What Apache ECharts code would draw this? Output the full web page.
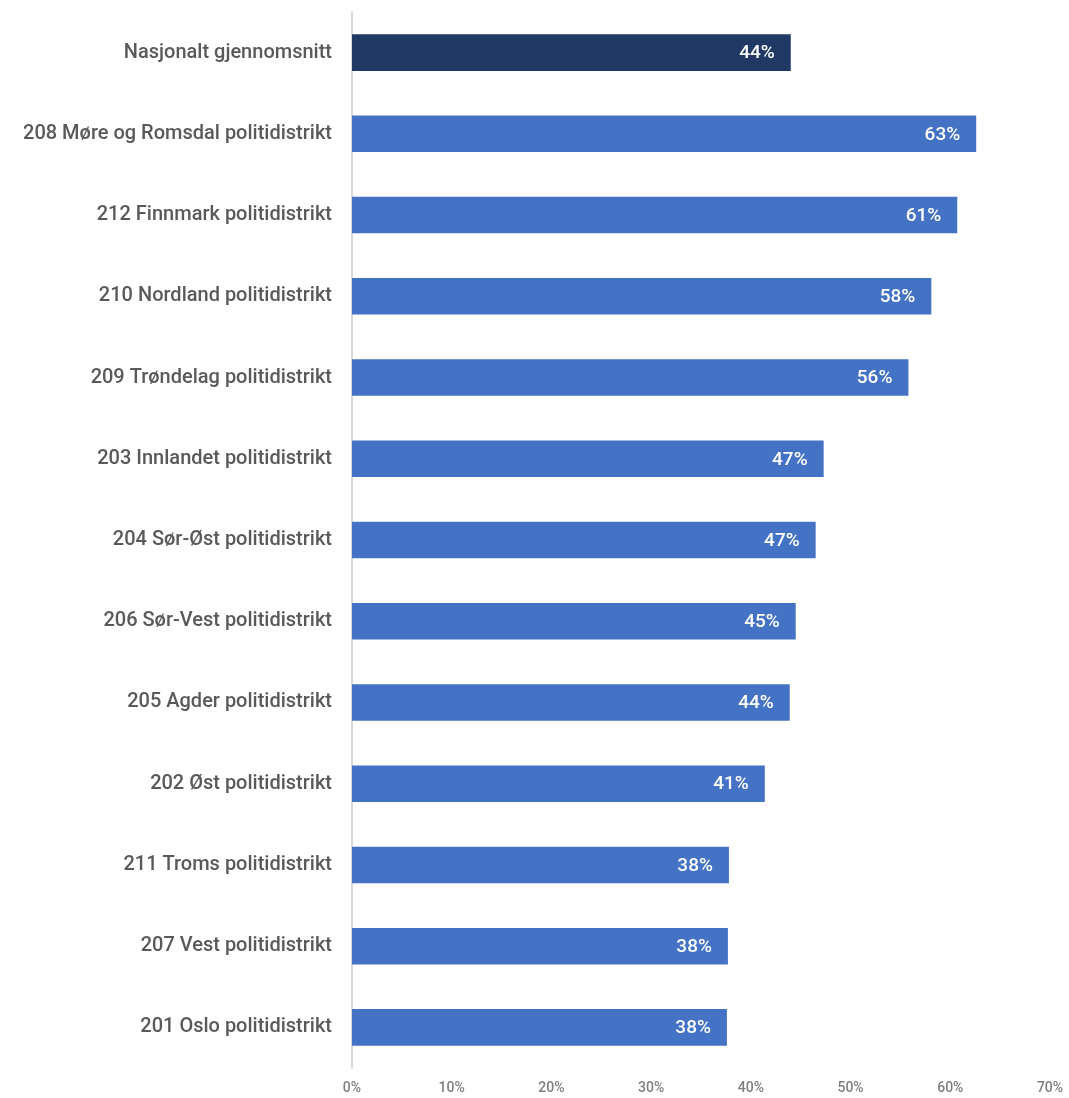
<!DOCTYPE html>
<html><head><meta charset="utf-8">
<script src="https://cdn.jsdelivr.net/npm/echarts@6/dist/echarts.min.js"></script>
<style>html,body{margin:0;padding:0;background:#fff}#c{width:1069px;height:1098px}</style>
</head><body><div id="c"></div>
<script>
const categories = [
  "Nasjonalt gjennomsnitt",
  "208 Møre og Romsdal politidistrikt",
  "212 Finnmark politidistrikt",
  "210 Nordland politidistrikt",
  "209 Trøndelag politidistrikt",
  "203 Innlandet politidistrikt",
  "204 Sør-Øst politidistrikt",
  "206 Sør-Vest politidistrikt",
  "205 Agder politidistrikt",
  "202 Øst politidistrikt",
  "211 Troms politidistrikt",
  "207 Vest politidistrikt",
  "201 Oslo politidistrikt"
];
const values = [0.440, 0.626, 0.607, 0.581, 0.558, 0.473, 0.465, 0.445, 0.439, 0.414, 0.378, 0.377, 0.376];
const xTicks = [0, 0.1, 0.2, 0.3, 0.4, 0.5, 0.6, 0.7];

const chart = echarts.init(document.getElementById('c'));
const font = "Roboto, 'Noto Sans', sans-serif";
chart.setOption({
  animation: false,
  grid: {left: 352, right: 19, top: 12, bottom: 30, containLabel: false},
  xAxis: {
    type: 'value', min: xTicks[0], max: xTicks[xTicks.length-1], interval: 0.1,
    axisLine: {show: false}, axisTick: {show: false}, splitLine: {show: false},
    axisLabel: {color: '#7f7f7f', fontSize: 14, fontWeight: 500, fontFamily: font, margin: 13,
      formatter: v => Math.round(v*100) + '%'}
  },
  yAxis: {
    type: 'category', data: categories, inverse: true,
    axisLine: {show: true, lineStyle: {color: '#d9d9d9', width: 2}},
    axisTick: {show: false},
    axisLabel: {color: '#595959', fontSize: 20, fontWeight: 500, fontFamily: font, margin: 20}
  },
  series: [{
    type: 'bar', barWidth: '45%',
    data: values.map((v, i) => ({value: v, itemStyle: {color: i === 0 ? '#203864' : '#4472C4'}})),
    label: {show: true, position: 'insideRight', color: '#fff', fontSize: 19, fontFamily: font,
      fontWeight: 500, offset: [-11, 1],
      formatter: p => Math.round(p.value*100) + '%'}
  }]
});
</script></body></html>
